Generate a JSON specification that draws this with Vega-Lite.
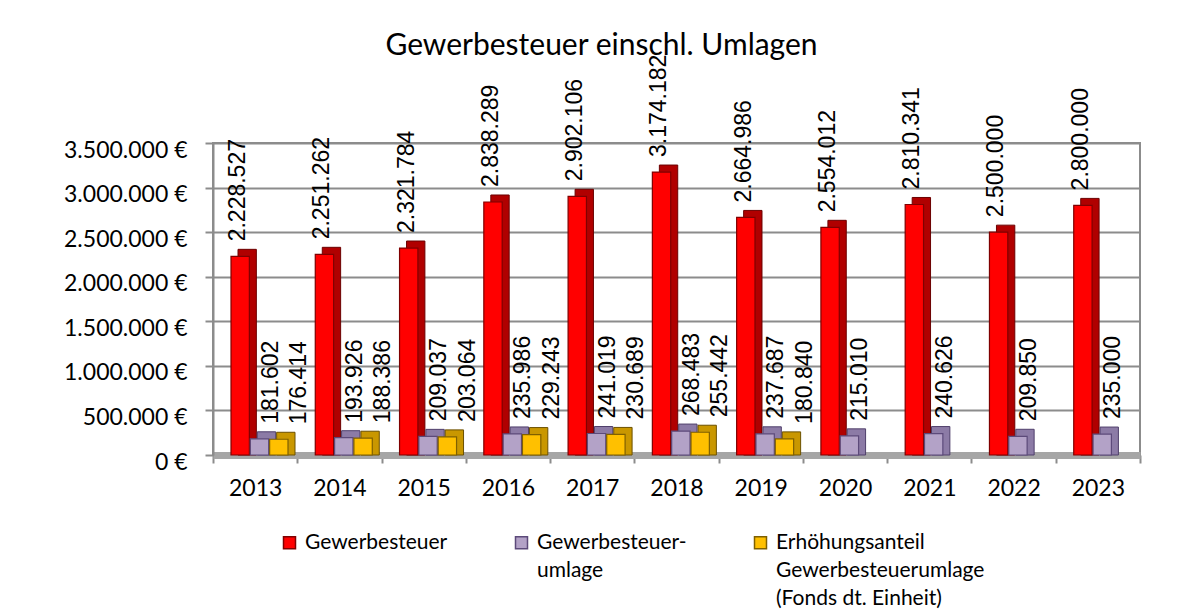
{
  "$schema": "https://vega.github.io/schema/vega-lite/v6.json",
  "width": 927,
  "height": 312,
  "autosize": {"type": "none"},
  "padding": {"left": 213, "top": 143, "right": 38, "bottom": 161},
  "background": "white",
  "config": {
    "locale": {"number": {"decimal": ",", "thousands": ".", "grouping": [3], "currency": ["", " €"]}},
    "view": {"stroke": "#8c8c8c", "strokeWidth": 2},
    "font": "Lato",
    "style": {"guide-label": {"lineHeight": 28}},
    "legend": {
      "orient": "none", "legendX": 66, "legendY": 389, "direction": "horizontal", "columns": 3,
      "symbolType": "square", "symbolSize": 144, "symbolStrokeWidth": 1.5,
      "labelFont": "Lato", "labelFontSize": 21, "labelColor": "#000", "labelOffset": 5,
      "gridAlign": "each", "columnPadding": 63, "labelLimit": 400
    }
  },
  "title": {"text": "Gewerbesteuer einschl. Umlagen", "font": "Lato", "fontSize": 30, "fontWeight": "normal", "color": "#000", "anchor": "middle", "dx": -75, "offset": -6},
  "data": {"values": [
    {"jahr": "2013", "serie": "Gewerbesteuer", "wert": 2228527},
    {"jahr": "2013", "serie": "Gewerbesteuerumlage", "wert": 181602},
    {"jahr": "2013", "serie": "Erhöhungsanteil", "wert": 176414},
    {"jahr": "2014", "serie": "Gewerbesteuer", "wert": 2251262},
    {"jahr": "2014", "serie": "Gewerbesteuerumlage", "wert": 193926},
    {"jahr": "2014", "serie": "Erhöhungsanteil", "wert": 188386},
    {"jahr": "2015", "serie": "Gewerbesteuer", "wert": 2321784},
    {"jahr": "2015", "serie": "Gewerbesteuerumlage", "wert": 209037},
    {"jahr": "2015", "serie": "Erhöhungsanteil", "wert": 203064},
    {"jahr": "2016", "serie": "Gewerbesteuer", "wert": 2838289},
    {"jahr": "2016", "serie": "Gewerbesteuerumlage", "wert": 235986},
    {"jahr": "2016", "serie": "Erhöhungsanteil", "wert": 229243},
    {"jahr": "2017", "serie": "Gewerbesteuer", "wert": 2902106},
    {"jahr": "2017", "serie": "Gewerbesteuerumlage", "wert": 241019},
    {"jahr": "2017", "serie": "Erhöhungsanteil", "wert": 230689},
    {"jahr": "2018", "serie": "Gewerbesteuer", "wert": 3174182},
    {"jahr": "2018", "serie": "Gewerbesteuerumlage", "wert": 268483},
    {"jahr": "2018", "serie": "Erhöhungsanteil", "wert": 255442},
    {"jahr": "2019", "serie": "Gewerbesteuer", "wert": 2664986},
    {"jahr": "2019", "serie": "Gewerbesteuerumlage", "wert": 237687},
    {"jahr": "2019", "serie": "Erhöhungsanteil", "wert": 180840},
    {"jahr": "2020", "serie": "Gewerbesteuer", "wert": 2554012},
    {"jahr": "2020", "serie": "Gewerbesteuerumlage", "wert": 215010},
    {"jahr": "2021", "serie": "Gewerbesteuer", "wert": 2810341},
    {"jahr": "2021", "serie": "Gewerbesteuerumlage", "wert": 240626},
    {"jahr": "2022", "serie": "Gewerbesteuer", "wert": 2500000},
    {"jahr": "2022", "serie": "Gewerbesteuerumlage", "wert": 209850},
    {"jahr": "2023", "serie": "Gewerbesteuer", "wert": 2800000},
    {"jahr": "2023", "serie": "Gewerbesteuerumlage", "wert": 235000}
  ]},
  "encoding": {
    "x": {"field": "jahr", "type": "nominal", "title": null,
      "scale": {"paddingInner": 0, "paddingOuter": 0},
      "axis": {"labelFont": "Lato", "labelFontSize": 23, "labelColor": "#000", "labelAngle": 0, "labelPadding": 14,
        "tickBand": "extent", "tickSize": 8, "tickColor": "#8c8c8c", "tickWidth": 2,
        "domainColor": "#a6a6a6", "domainWidth": 7, "grid": false}},
    "y": {"field": "wert", "type": "quantitative", "title": null, "stack": null,
      "scale": {"domain": [0, 3500000], "nice": false},
      "axis": {"values": [0, 500000, 1000000, 1500000, 2000000, 2500000, 3000000, 3500000], "format": "$,.0f",
        "labelFont": "Lato", "labelFontSize": 23, "labelColor": "#000", "labelPadding": 18, "labelOffset": 7,
        "tickSize": 8, "tickColor": "#8c8c8c", "tickWidth": 2, "domainColor": "#8c8c8c", "domainWidth": 2,
        "gridColor": "#8c8c8c", "gridWidth": 2}}
  },
  "layer": [
    {
      "mark": {"type": "bar", "yOffset": -7, "strokeWidth": 1},
      "encoding": {
        "xOffset": {"field": "serie", "scale": {"domain": ["Gewerbesteuer", "Gewerbesteuerumlage", "Erhöhungsanteil"], "range": [25, 82], "paddingInner": 0.05, "paddingOuter": 0}},
        "fill": {"field": "serie", "scale": {"domain": ["Gewerbesteuer", "Gewerbesteuerumlage", "Erhöhungsanteil"], "range": ["#B00000", "#8C7BA6", "#C99700"]}, "legend": null},
        "stroke": {"field": "serie", "scale": {"domain": ["Gewerbesteuer", "Gewerbesteuerumlage", "Erhöhungsanteil"], "range": ["#6b0000", "#4f3f6b", "#6b5000"]}, "legend": null}
      }
    },
    {
      "mark": {"type": "bar", "strokeWidth": 1.2},
      "encoding": {
        "xOffset": {"field": "serie", "scale": {"domain": ["Gewerbesteuer", "Gewerbesteuerumlage", "Erhöhungsanteil"], "range": [18, 75], "paddingInner": 0.05, "paddingOuter": 0}},
        "fill": {"field": "serie", "title": null,
          "scale": {"domain": ["Gewerbesteuer", "Gewerbesteuerumlage", "Erhöhungsanteil"], "range": ["#FF0000", "#B3A2C7", "#FFC000"]},
          "legend": {"labelExpr": "datum.label == 'Gewerbesteuerumlage' ? ['Gewerbesteuer-', 'umlage', ' '] : datum.label == 'Erhöhungsanteil' ? ['Erhöhungsanteil', 'Gewerbesteuerumlage', '(Fonds dt. Einheit)'] : [datum.label, ' ', ' ']"}},
        "stroke": {"field": "serie", "title": null,
          "scale": {"domain": ["Gewerbesteuer", "Gewerbesteuerumlage", "Erhöhungsanteil"], "range": ["#7F0000", "#5C4A7A", "#7F6000"]},
          "legend": {"labelExpr": "datum.label == 'Gewerbesteuerumlage' ? ['Gewerbesteuer-', 'umlage', ' '] : datum.label == 'Erhöhungsanteil' ? ['Erhöhungsanteil', 'Gewerbesteuerumlage', '(Fonds dt. Einheit)'] : [datum.label, ' ', ' ']"}}
      }
    },
    {
      "transform": [{"filter": "datum.serie == 'Gewerbesteuer'"}],
      "mark": {"type": "text", "angle": 270, "align": "left", "baseline": "middle", "dx": 15, "dy": 7, "font": "Liberation Sans", "fontSize": 23, "color": "#000"},
      "encoding": {
        "xOffset": {"field": "serie", "scale": {"domain": ["Gewerbesteuer", "Gewerbesteuerumlage", "Erhöhungsanteil"], "range": [18, 75], "paddingInner": 0.05, "paddingOuter": 0}},
        "text": {"field": "wert", "type": "quantitative", "format": ",.0f"}
      }
    },
    {
      "transform": [{"filter": "datum.serie != 'Gewerbesteuer'"}],
      "mark": {"type": "text", "angle": 270, "align": "left", "baseline": "middle", "dx": 15, "dy": 11, "font": "Liberation Sans", "fontSize": 23, "color": "#000"},
      "encoding": {
        "xOffset": {"field": "serie", "scale": {"domain": ["Gewerbesteuer", "Gewerbesteuerumlage", "Erhöhungsanteil"], "range": [18, 75], "paddingInner": 0.05, "paddingOuter": 0}},
        "text": {"field": "wert", "type": "quantitative", "format": ",.0f"}
      }
    }
  ],
  "resolve": {"scale": {"fill": "independent", "stroke": "independent", "xOffset": "independent"}}
}
